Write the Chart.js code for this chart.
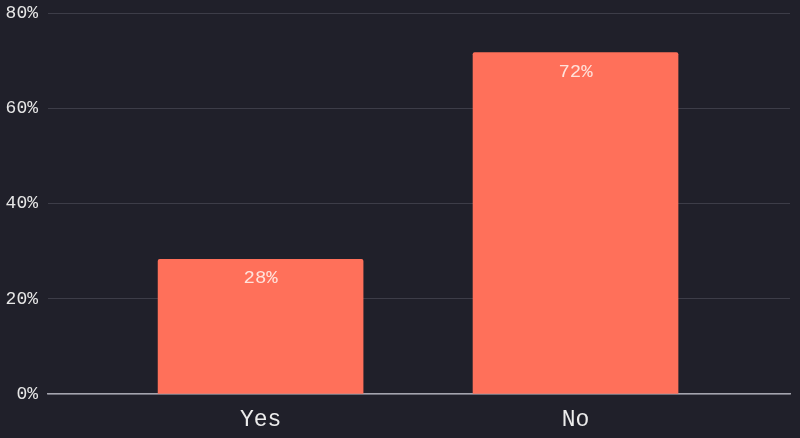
<!DOCTYPE html>
<html>
<head>
<meta charset="utf-8">
<script src="https://cdn.jsdelivr.net/npm/chart.js@4"></script>
<style>
html,body{margin:0;padding:0;background:#20202a;}
#wrap{width:800px;height:438px;}
</style>
</head>
<body>
<div id="wrap"><canvas id="c"></canvas></div>
<script>
const categories = ['Yes', 'No'];
const values = [28.3, 71.7];
const yTicks = [0, 20, 40, 60, 80];

const FONT = '"Liberation Mono", "DejaVu Sans Mono", monospace';

const barLabels = {
  id: 'barLabels',
  afterDatasetsDraw(chart) {
    const ctx = chart.ctx;
    const meta = chart.getDatasetMeta(0);
    ctx.save();
    ctx.font = '19px ' + FONT;
    ctx.fillStyle = 'rgba(255,232,225,0.95)';
    ctx.textAlign = 'center';
    ctx.textBaseline = 'middle';
    meta.data.forEach((el, i) => {
      ctx.fillText(Math.round(values[i]) + '%', el.x, el.y + 19);
    });
    ctx.restore();
  }
};

new Chart(document.getElementById('c'), {
  type: 'bar',
  data: {
    datasets: [{
      data: categories.map((c, i) => ({x: i + 1, y: values[i]})),
      backgroundColor: '#ff705a',
      borderRadius: 2,
      borderSkipped: 'bottom',
      barThickness: 205
    }]
  },
  options: {
    responsive: true,
    maintainAspectRatio: false,
    animation: false,
    layout: {padding: {top: 13, right: 10, left: 0, bottom: 0}},
    plugins: {legend: {display: false}, tooltip: {enabled: false}},
    scales: {
      x: {
        type: 'linear',
        offset: false,
        min: 0.325,
        max: 2.681,
        afterBuildTicks(scale) {
          scale.ticks = categories.map((c, i) => ({value: i + 1}));
        },
        afterFit(scale) { scale.height = 44; scale.paddingLeft = 0; scale.paddingRight = 0; },
        grid: {display: false},
        border: {display: true, color: '#a4a4ae', width: 1.5},
        ticks: {
          color: '#ececec',
          font: {family: FONT, size: 23},
          padding: 4,
          callback: (v) => categories[Math.round(v) - 1]
        }
      },
      y: {
        min: 0,
        max: 80,
        afterBuildTicks(scale) {
          scale.ticks = yTicks.map(v => ({value: v}));
        },
        afterFit(scale) { scale.width = 48; scale.paddingTop = 0; scale.paddingBottom = 0; },
        grid: {color: '#3d3d48', drawTicks: false, lineWidth: 1},
        border: {display: false},
        ticks: {
          color: '#e6e6e6',
          font: {family: FONT, size: 18},
          padding: 10,
          callback: (v) => v + '%'
        }
      }
    }
  },
  plugins: [barLabels]
});
</script>
</body>
</html>
